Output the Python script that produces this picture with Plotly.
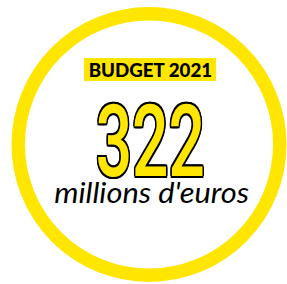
import plotly.graph_objects as go

label_text = "BUDGET 2021"
value_text = "322"
unit_text = "millions d'euros"

YELLOW = "#FFE600"

fig = go.Figure()
fig.add_trace(go.Scatter(x=[0], y=[0], mode="markers", marker=dict(opacity=0), hoverinfo="skip", showlegend=False))

fig.add_shape(type="circle", xref="x", yref="y", x0=18.25, x1=279.75, y0=13.75, y1=275.25,
              line=dict(color=YELLOW, width=13.5), fillcolor="rgba(0,0,0,0)")
fig.add_shape(type="rect", xref="x", yref="y", x0=84, x1=216, y0=58, y1=81,
              line=dict(width=0), fillcolor=YELLOW)

fig.add_annotation(x=150, y=70, xref="x", yref="y", text=label_text, showarrow=False,
                   font=dict(family="Lato", size=18, color="#000", weight=900))
outline = ", ".join(f"{dx}px {dy}px 0 #000" for dx, dy in
                    [(2, 0), (-2, 0), (0, 2), (0, -2), (1.5, 1.5), (-1.5, 1.5), (1.5, -1.5), (-1.5, -1.5)])
fig.add_annotation(x=150, y=141, xref="x", yref="y", text=value_text, showarrow=False,
                   font=dict(family="Roboto", size=100, color=YELLOW, weight=500, shadow=outline))
fig.add_annotation(x=151, y=192, xref="x", yref="y", text=unit_text, showarrow=False,
                   font=dict(family="Lato", size=28, color="#000", style="italic", weight=400))

fig.update_xaxes(range=[0, 287], visible=False)
fig.update_yaxes(range=[284, 0], visible=False)
fig.update_layout(width=287, height=284, margin=dict(l=0, r=0, t=0, b=0),
                  paper_bgcolor="white", plot_bgcolor="white", hovermode=False)

post = """
document.body.style.margin='0';
var ts=document.querySelectorAll('.annotation-text');
function sx(t,s){t.style.transformBox='fill-box';t.style.transformOrigin='center';t.style.transform='scaleX('+s+')';}
if(ts.length>2){sx(ts[0],1.04);sx(ts[1],0.64);sx(ts[2],1.1);}
"""
fig.write_html("out.html", post_script=post, config={"displayModeBar": False})
